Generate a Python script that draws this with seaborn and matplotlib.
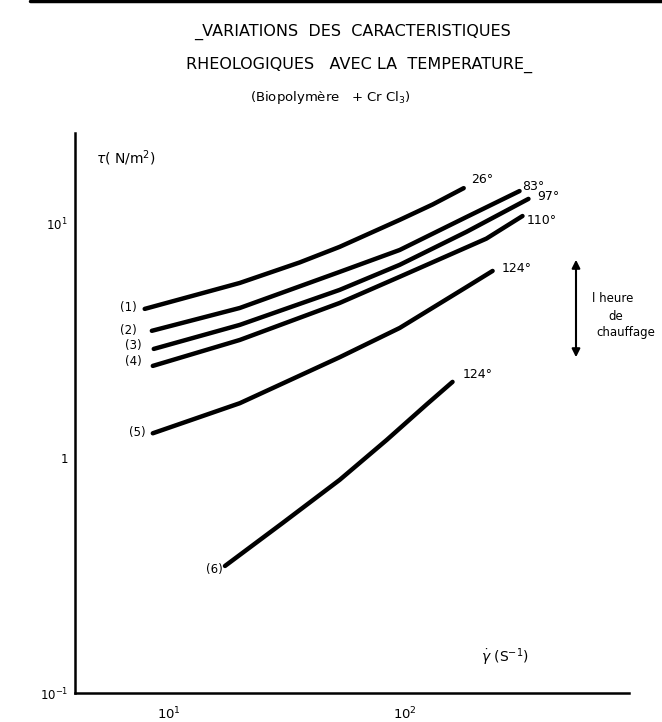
import numpy as np
import pandas as pd
import matplotlib
matplotlib.use("Agg")
import matplotlib.pyplot as plt
import seaborn as sns

# ---- data (shear rate s^-1, shear stress N/m^2) ----
curve_ids = ["(1)", "(2)", "(3)", "(4)", "(5)", "(6)"]
end_labels = ["26°", "83°", "97°", "110°", "124°", "124°"]

x1 = [7.9, 20.0, 35.9, 53.0, 95.3, 131.5, 178]
y1 = [4.34, 5.60, 6.85, 7.98, 10.4, 12.1, 14.2]
x2 = [8.47, 20.0, 53.0, 95.3, 183, 307]
y2 = [3.50, 4.38, 6.24, 7.74, 10.7, 13.8]
x3 = [8.63, 20.0, 53.0, 95.3, 183, 335]
y3 = [2.93, 3.71, 5.23, 6.69, 9.25, 12.78]
x4 = [8.55, 20.0, 53.0, 95.3, 222, 316]
y4 = [2.48, 3.20, 4.60, 5.95, 8.65, 10.8]
x5 = [8.55, 20.0, 53.0, 95.3, 183, 236]
y5 = [1.28, 1.72, 2.70, 3.60, 5.38, 6.30]
x6 = [17.3, 30.4, 53.0, 84.0, 124, 159.6]
y6 = [0.348, 0.531, 0.810, 1.20, 1.70, 2.12]

xs = [x1, x2, x3, x4, x5, x6]
ys = [y1, y2, y3, y4, y5, y6]

rows = []
for cid, xv, yv in zip(curve_ids, xs, ys):
    for a, b in zip(xv, yv):
        rows.append({"curve": cid, "gamma": a, "tau": b})
df = pd.DataFrame(rows)

sns.set_theme(style="white")
plt.rcParams["font.family"] = ["DejaVu Sans"]
plt.rcParams["text.color"] = "black"
plt.rcParams["xtick.color"] = "black"
plt.rcParams["ytick.color"] = "black"

PX = 0.72  # points per pixel at dpi 100

fig = plt.figure(figsize=(6.62, 7.22), dpi=100)
ax = fig.add_axes([75/662, 1-693/722, (629-75)/662, (693-133)/722])

sns.lineplot(data=df, x="gamma", y="tau", hue="curve", units="curve",
             estimator=None, sort=False, palette=["black"]*6,
             linewidth=3.2, legend=False, ax=ax)
for ln in ax.get_lines():
    ln.set_solid_joinstyle("round")

ax.set_xscale("log")
ax.set_yscale("log")
ax.set_xlim(4.0, 894)
ax.set_ylim(0.1, 24.4)
ax.set_xticks([10, 100])
ax.set_xticklabels([r"$10^{1}$", r"$10^{2}$"])
ax.set_yticks([0.1, 1, 10])
ax.set_yticklabels([r"$10^{-1}$", "1", r"$10^{1}$"])
ax.minorticks_off()
ax.tick_params(axis="both", direction="in", length=6, width=1.8, colors="black")
ax.tick_params(axis="x", pad=9, labelsize=9.5)
ax.tick_params(axis="y", pad=5, labelsize=8.5)
for s in ["top", "right"]:
    ax.spines[s].set_visible(False)
for s in ["left", "bottom"]:
    ax.spines[s].set_color("black")
    ax.spines[s].set_linewidth(1.8)
ax.set_xlabel("")
ax.set_ylabel("")

# per-label pixel offsets (dx, dy) – start labels (right-aligned) and end labels (left-aligned)
start_off = [(-8, 1), (-15, 0), (-12, 3), (-11, 4), (-7, 1), (-2, -4)]
end_off = [(7, 9), (3, 5), (9, 2), (4, -4), (9, 2), (10, 7)]

for cid, lab, xv, yv, so, eo in zip(curve_ids, end_labels, xs, ys, start_off, end_off):
    ax.annotate(cid, (xv[0], yv[0]), xytext=(so[0]*PX, so[1]*PX),
                textcoords="offset points", ha="right", va="center", fontsize=8.5)
    ax.annotate(lab, (xv[-1], yv[-1]), xytext=(eo[0]*PX, eo[1]*PX),
                textcoords="offset points", ha="left", va="center", fontsize=9)

# axis labels inside the plot area
fig.text(96/662, 1-158/722, r"$\tau$( N/m$^2$)", fontsize=10, ha="left", va="center")
fig.text(481/662, 1-657/722, r"$\dot{\gamma}$ (S$^{-1}$)", fontsize=10,
         ha="left", va="center")

# heating arrow
ax.annotate("", xy=(576/662, 1-257/722), xytext=(576/662, 1-360/722),
            xycoords="figure fraction", textcoords="figure fraction",
            arrowprops=dict(arrowstyle="<|-|>", color="black", lw=1.5,
                            mutation_scale=12))
fig.text(613/662, 1-298/722, "l heure", fontsize=8.5, ha="center", va="center")
fig.text(616/662, 1-316/722, "de", fontsize=8.5, ha="center", va="center")
fig.text(626/662, 1-333/722, "chauffage", fontsize=8.5, ha="center", va="center")

# titles
fig.text(352/662, 1-32/722, "_VARIATIONS  DES  CARACTERISTIQUES", fontsize=11.5,
         ha="center", va="center")
fig.text(359/662, 1-65/722, "RHEOLOGIQUES   AVEC LA  TEMPERATURE_", fontsize=11.5,
         ha="center", va="center")
fig.text(330/662, 1-98/722, r"(Biopolymère   + Cr Cl$_3$)", fontsize=9.5,
         ha="center", va="center")

# top border line of the scanned page
fig.add_artist(plt.Line2D([30/662, 1], [1-1/722, 1-1/722], color="black", lw=2.5,
                          transform=fig.transFigure))

fig.savefig("out.png", dpi=100)
